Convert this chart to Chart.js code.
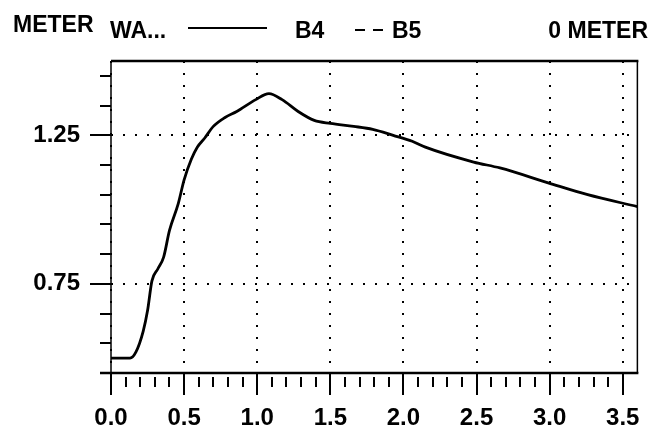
<!DOCTYPE html>
<html>
<head>
<meta charset="utf-8">
<script src="https://cdn.jsdelivr.net/npm/chart.js@4/dist/chart.umd.min.js"></script>
<style>
  html, body { margin: 0; padding: 0; background: #fff; }
  #wrap { width: 671px; height: 436px; position: relative; }
</style>
</head>
<body>
<div id="wrap"><canvas id="chart" width="671" height="436"></canvas></div>
<script>
// Distance along the profile (horizontal axis) and the B4 water level in meters
const distance = [0, 0.13, 0.17, 0.22, 0.25, 0.28, 0.32, 0.36, 0.40, 0.46, 0.50, 0.55, 0.59, 0.64, 0.70, 0.78, 0.86, 0.99, 1.08, 1.17, 1.28, 1.39, 1.50, 1.66, 1.79, 1.93, 2.06, 2.15, 2.48, 2.66, 2.99, 3.26, 3.6];
const levelB4 = [0.50, 0.50, 0.52, 0.59, 0.66, 0.76, 0.80, 0.84, 0.93, 1.02, 1.10, 1.17, 1.21, 1.24, 1.28, 1.31, 1.33, 1.37, 1.39, 1.37, 1.33, 1.30, 1.29, 1.28, 1.27, 1.25, 1.23, 1.21, 1.16, 1.14, 1.09, 1.05, 1.01];
const levelB5 = [];

// Labelled ticks
const xTickValues = [0, 0.5, 1.0, 1.5, 2.0, 2.5, 3.0, 3.5];
const yTickValues = [0.75, 1.25];

// Header texts
const yUnitLabel = 'METER';
const headerName = 'WA...';
const seriesNames = ['B4', 'B5'];
const rightLabel = '0 METER';

const FONT = '"Liberation Sans", Arial, sans-serif';

// Minor tick marks on both axes plus the frame around the plot
const frameAndTicks = {
  id: 'frameAndTicks',
  afterDraw(chart) {
    const { ctx, chartArea: a, scales: { x, y } } = chart;
    ctx.save();
    ctx.strokeStyle = '#000';
    ctx.lineCap = 'butt';
    const seg = (x1, y1, x2, y2, w) => {
      ctx.lineWidth = w;
      ctx.beginPath(); ctx.moveTo(x1, y1); ctx.lineTo(x2, y2); ctx.stroke();
    };
    // frame
    seg(a.left - 11, a.bottom, a.right + 1, a.bottom, 2.5);
    seg(a.left, a.top, a.right + 1, a.top, 2.5);
    seg(a.right, a.top, a.right, a.bottom, 1.5);
    seg(a.left, a.top, a.left, a.bottom, 1.5);
    // y ticks every 0.1
    for (let i = 0; i <= 10; i++) {
      const v = 0.45 + i * 0.1;
      const py = Math.round(y.getPixelForValue(v));
      const major = yTickValues.some(t => Math.abs(t - v) < 1e-6);
      seg(a.left - (major ? 21 : 11), py, a.left, py, 2);
    }
    // x ticks every 0.1
    for (let i = 0; i <= 35; i++) {
      const v = i * 0.1;
      const px = Math.round(x.getPixelForValue(v));
      const major = i % 5 === 0;
      if (major) seg(px, a.bottom, px, a.bottom + 22, 2);
      else seg(px, a.bottom + 4, px, a.bottom + 14, 2);
    }
    ctx.restore();
  }
};

// Header row: unit label, name and the line samples for each series
const headerRow = {
  id: 'headerRow',
  afterDraw(chart) {
    const { ctx } = chart;
    const ds = chart.data.datasets;
    ctx.save();
    ctx.fillStyle = '#000';
    ctx.strokeStyle = '#000';
    ctx.font = 'bold 23px ' + FONT;
    ctx.textBaseline = 'alphabetic';
    ctx.textAlign = 'left';
    ctx.fillText(yUnitLabel, 13, 32);
    ctx.fillText(headerName, 110, 38);
    // B4 sample
    ctx.lineWidth = 2;
    ctx.setLineDash(ds[0].borderDash || []);
    ctx.beginPath(); ctx.moveTo(188, 28); ctx.lineTo(267, 28); ctx.stroke();
    ctx.setLineDash([]);
    ctx.fillText(ds[0].label, 295, 38);
    // B5 sample
    ctx.setLineDash(ds[1].borderDash || []);
    ctx.beginPath(); ctx.moveTo(355, 30); ctx.lineTo(386, 30); ctx.stroke();
    ctx.setLineDash([]);
    ctx.fillText(ds[1].label, 392, 38);
    ctx.textAlign = 'right';
    ctx.fillText(rightLabel, 648, 38);
    ctx.restore();
  }
};

new Chart(document.getElementById('chart'), {
  type: 'line',
  data: {
    datasets: [
      {
        label: seriesNames[0],
        data: distance.map((d, i) => ({ x: d, y: levelB4[i] })),
        borderColor: '#000',
        borderWidth: 2.8,
        pointRadius: 0,
        cubicInterpolationMode: 'monotone',
        borderDash: []
      },
      {
        label: seriesNames[1],
        data: levelB5,
        borderColor: '#000',
        borderWidth: 2,
        pointRadius: 0,
        borderDash: [10, 8]
      }
    ]
  },
  options: {
    responsive: false,
    animation: false,
    events: [],
    layout: { padding: { left: 0, top: 61, right: 20, bottom: 0 } },
    plugins: { legend: { display: false }, title: { display: false }, tooltip: { enabled: false } },
    scales: {
      x: {
        type: 'linear',
        min: 0,
        max: 3.6,
        afterBuildTicks: s => { s.ticks = xTickValues.map(v => ({ value: v })); },
        afterFit: s => { s.height = 63; },
        ticks: {
          color: '#000',
          padding: 31,
          font: { family: FONT, size: 24, weight: 'bold' },
          callback: v => Number(v).toFixed(1),
          maxRotation: 0,
          autoSkip: false
        },
        grid: { color: '#000', lineWidth: 2, drawTicks: false },
        border: { display: false, dash: [2, 10] }
      },
      y: {
        type: 'linear',
        min: 0.45,
        max: 1.5,
        afterBuildTicks: s => { s.ticks = yTickValues.map(v => ({ value: v })); },
        afterFit: s => { s.width = 111; },
        ticks: {
          color: '#000',
          padding: 31,
          font: { family: FONT, size: 24, weight: 'bold' },
          callback: v => Number(v).toFixed(2),
          autoSkip: false
        },
        grid: { color: '#000', lineWidth: 2, drawTicks: false },
        border: { display: false, dash: [2, 10] }
      }
    }
  },
  plugins: [frameAndTicks, headerRow]
});
</script>
</body>
</html>
